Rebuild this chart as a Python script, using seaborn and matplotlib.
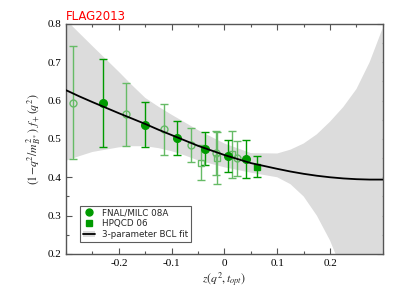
import numpy as np
import pandas as pd
import seaborn as sns
import matplotlib.pyplot as plt
from matplotlib.lines import Line2D
from matplotlib.patches import Patch
from matplotlib.ticker import FuncFormatter, MultipleLocator

# FNAL/MILC 08A, points used in the fit (filled)
fnal_z = [-0.230, -0.151, -0.089, -0.036, 0.006, 0.040]
fnal_f = [0.593, 0.537, 0.502, 0.475, 0.456, 0.447]
fnal_err = [0.115, 0.059, 0.044, 0.044, 0.042, 0.049]

# FNAL/MILC 08A, points not used (open)
fnal_open_z = [-0.286, -0.187, -0.115, -0.063, -0.016, 0.024]
fnal_open_f = [0.594, 0.564, 0.525, 0.484, 0.464, 0.449]
fnal_open_err = [0.147, 0.082, 0.067, 0.044, 0.057, 0.046]

# HPQCD 06 (filled = used, open = not used)
hpqcd_z = [0.062]
hpqcd_f = [0.428]
hpqcd_err = [0.027]
hpqcd_open_z = [-0.045, -0.014, 0.014]
hpqcd_open_f = [0.438, 0.451, 0.460]
hpqcd_open_err = [0.045, 0.068, 0.061]

# 3-parameter BCL fit and its error band
fit_z = [-0.30, -0.275, -0.25, -0.20, -0.175, -0.15, -0.125, -0.10, -0.075, -0.05, 0.00, 0.05,
         0.10, 0.125, 0.15, 0.175, 0.20, 0.225, 0.25, 0.275, 0.30]
fit_f = [0.627, 0.611, 0.596, 0.567, 0.553, 0.539, 0.524, 0.510, 0.496, 0.482, 0.458, 0.437,
         0.422, 0.415, 0.409, 0.404, 0.400, 0.397, 0.395, 0.394, 0.394]
band_hi = [0.810, 0.776, 0.742, 0.675, 0.640, 0.607, 0.584, 0.563, 0.543, 0.523, 0.488, 0.463,
           0.462, 0.472, 0.488, 0.512, 0.545, 0.583, 0.630, 0.700, 0.790]
band_lo = [0.443, 0.455, 0.466, 0.478, 0.481, 0.481, 0.476, 0.468, 0.457, 0.444, 0.426, 0.412,
           0.400, 0.382, 0.350, 0.300, 0.235, 0.150, 0.050, -0.050, -0.200]

green = "#009a00"
light = "#66bb66"

sns.set_style("ticks")
plt.rcParams["font.family"] = ["Liberation Serif", "DejaVu Serif"]
plt.rcParams["mathtext.fontset"] = "stix"

fig = plt.figure(figsize=(4.13, 3.02), dpi=100)
ax = fig.add_axes([0.160, 0.159, 0.767, 0.762])

fit = pd.DataFrame({"z": fit_z, "f": fit_f, "lo": band_lo, "hi": band_hi})
ax.fill_between(fit["z"], fit["lo"], fit["hi"], color="#dcdcdc", lw=0, zorder=1)
sns.lineplot(data=fit, x="z", y="f", color="black", lw=1.3, ax=ax, zorder=4)

ekw = dict(ls="none", capsize=3, elinewidth=1.0, capthick=1.0, zorder=3)
ax.errorbar(fnal_open_z, fnal_open_f, yerr=fnal_open_err, fmt="o", ms=5,
            mfc="none", mec=light, ecolor=light, mew=1.0, **ekw)
ax.errorbar(hpqcd_open_z, hpqcd_open_f, yerr=hpqcd_open_err, fmt="s", ms=5,
            mfc="none", mec=light, ecolor=light, mew=1.0, **ekw)
ax.errorbar(fnal_z, fnal_f, yerr=fnal_err, fmt="o", ms=5.5,
            color=green, ecolor=green, **ekw)
ax.errorbar(hpqcd_z, hpqcd_f, yerr=hpqcd_err, fmt="s", ms=5,
            color=green, ecolor=green, **ekw)

ax.set_xlim(-0.3, 0.3)
ax.set_ylim(0.2, 0.8)
ax.xaxis.set_major_locator(MultipleLocator(0.1))
ax.xaxis.set_minor_locator(MultipleLocator(0.05))
ax.yaxis.set_major_locator(MultipleLocator(0.1))
ax.yaxis.set_minor_locator(MultipleLocator(0.05))
ax.xaxis.set_major_formatter(FuncFormatter(lambda v, p: "0" if abs(v) < 1e-9 else f"{v:.1f}"))
ax.yaxis.set_major_formatter(FuncFormatter(lambda v, p: f"{v:.1f}"))
ax.set_xticks([-0.2, -0.1, 0.0, 0.1, 0.2])
ax.tick_params(which="both", direction="in", top=True, right=True, labelsize=8, colors="#555555",
               labelcolor="black")
ax.tick_params(which="major", length=4, width=0.8)
ax.tick_params(which="minor", length=2, width=0.8)
for s in ax.spines.values():
    s.set_color("#555555")
    s.set_linewidth(1.0)

ax.set_xlabel(r"$z(q^2,t_{opt})$", fontsize=8.5, labelpad=2)
ax.set_ylabel(r"$(1\!-\!q^2/m^2_{B^*})\ f_+(q^2)$", fontsize=8.5, labelpad=3)

ax.text(0.0, 1.005, "FLAG2013", transform=ax.transAxes, color="red",
        fontsize=8.5, family=["DejaVu Sans"], va="bottom", ha="left")

handles = [
    Line2D([], [], marker="o", ls="none", color=green, ms=5),
    Line2D([], [], marker="s", ls="none", color=green, ms=4.5),
    (Patch(facecolor="#dcdcdc", edgecolor="none"), Line2D([], [], color="black", lw=1.3)),
]
labels = ["FNAL/MILC 08A", "HPQCD 06", "3-parameter BCL fit"]
leg = ax.legend(handles, labels, loc="lower left", bbox_to_anchor=(0.03, 0.035),
                prop={"family": "DejaVu Sans", "size": 6.3}, frameon=True, fancybox=False,
                handlelength=1.4, handletextpad=0.8, borderpad=0.3, labelspacing=0.2)
leg.get_frame().set_edgecolor("#333333")
leg.get_frame().set_linewidth(0.8)

fig.savefig("out.png", dpi=100)
